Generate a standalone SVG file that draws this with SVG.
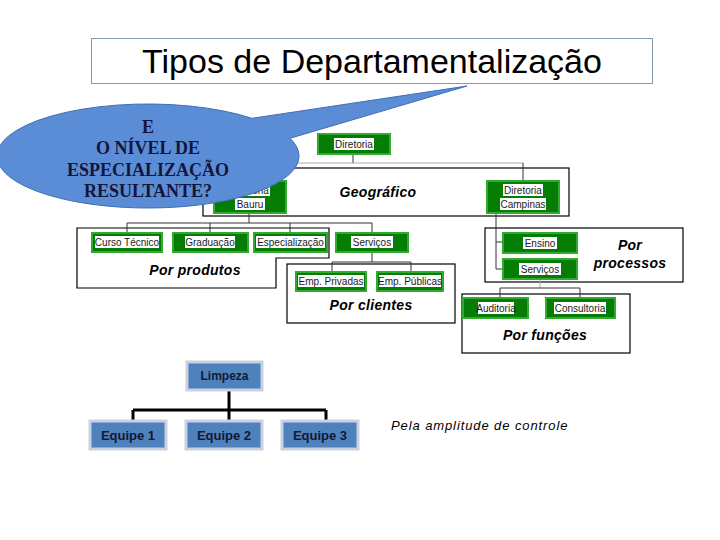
<svg xmlns="http://www.w3.org/2000/svg" width="720" height="540" viewBox="0 0 720 540">
<style>
.g{fill:#057d05;stroke:#32aa32;stroke-width:2}
.wb{fill:#ffffff}
.lt{font-family:"Liberation Sans",Arial,sans-serif;font-size:10px;fill:#1a1a1a;text-anchor:middle}
.it{font-family:"Liberation Sans",Arial,sans-serif;font-size:14px;font-weight:bold;font-style:italic;fill:#000;text-anchor:middle;letter-spacing:0.3px}
.fr{fill:none;stroke:#000;stroke-width:1.2}
.c{fill:none;stroke:#333;stroke-width:1}
.cg{fill:none;stroke:#aaa;stroke-width:1}
.b{fill:#4f81bd;stroke:#c8d2e0;stroke-width:3}
.bt{font-family:"Liberation Sans",Arial,sans-serif;font-weight:bold;fill:#0f1a33;text-anchor:middle}
.cl{font-family:"Liberation Serif","Times New Roman",serif;font-size:18px;font-weight:bold;fill:#15153a;text-anchor:middle}
</style>
<rect width="720" height="540" fill="#ffffff"/>
<g id="title">
<rect x="91.5" y="38.5" width="561" height="45" fill="#ffffff" stroke="#8497b0" stroke-width="1"/>
<text x="372" y="73" font-family="Liberation Sans,Arial,sans-serif" font-size="34" text-anchor="middle" fill="#000">Tipos de Departamentalização</text>
</g>
<g id="frames">
<rect class="fr" x="203" y="168" width="366" height="48"/>
<path class="fr" d="M77 228 H329 V258 H276 V288 H77 Z"/>
<rect class="fr" x="287" y="264" width="168" height="59"/>
<rect class="fr" x="485" y="228" width="198" height="54"/>
<rect class="fr" x="462" y="294" width="168" height="59"/>
</g>
<g id="connectors">
<path class="c" d="M353 154 V163"/>
<path class="cg" d="M249 163 H523"/>
<path class="c" d="M523 163 V181"/>
<path class="c" d="M249 213 V223 M127 223 H372 M127 223 V233 M210 223 V233 M290 223 V233 M372 223 V232"/>
<path class="c" d="M372 252 V262 M332 262 H411 M332 262 V271 M411 262 V271"/>
<path class="c" d="M496 214 V269 M496 242 H503 M496 269 H503"/>
<path class="cg" d="M540 279 V288"/>
<path class="c" d="M500 288 H580 M500 288 V298 M580 288 V298"/>
<path d="M229 390 V410 M133 410 H326 M133 410 V421 M229 410 V421 M326 410 V421" fill="none" stroke="#000" stroke-width="3"/>
</g>
<g id="diretoria">
<rect class="g" x="318" y="134" width="72" height="20"/>
<rect class="wb" x="334" y="138" width="40" height="12"/>
<text class="lt" x="354" y="147.5">Diretoria</text>
</g>
<g id="bauru">
<rect class="g" x="214" y="181" width="72" height="32"/>
<rect class="wb" x="230" y="184" width="40" height="12"/>
<text class="lt" x="250" y="193.5">Diretoria</text>
<rect class="wb" x="235" y="198" width="30" height="12"/>
<text class="lt" x="250" y="207.5">Bauru</text>
</g>
<g id="campinas">
<rect class="g" x="487" y="181" width="72" height="32"/>
<rect class="wb" x="503" y="184" width="40" height="12"/>
<text class="lt" x="523" y="193.5">Diretoria</text>
<rect class="wb" x="500" y="198" width="46" height="12"/>
<text class="lt" x="523" y="207.5">Campinas</text>
</g>
<g id="curso">
<rect class="g" x="92" y="233" width="70" height="19"/>
<rect class="wb" x="95" y="236" width="64" height="12"/>
<text class="lt" x="127" y="245.5">Curso Técnico</text>
</g>
<g id="graduacao">
<rect class="g" x="173" y="233" width="75" height="19"/>
<rect class="wb" x="185" y="236" width="50" height="12"/>
<text class="lt" x="210" y="245.5">Graduação</text>
</g>
<g id="especializacao">
<rect class="g" x="254" y="233" width="73" height="19"/>
<rect class="wb" x="256" y="236" width="69" height="12"/>
<text class="lt" x="290.5" y="245.5">Especialização</text>
</g>
<g id="servicos1">
<rect class="g" x="336" y="233" width="72" height="19"/>
<rect class="wb" x="351" y="236" width="42" height="12"/>
<text class="lt" x="372" y="245.5">Serviços</text>
</g>
<g id="privadas">
<rect class="g" x="296" y="272" width="70" height="19"/>
<rect class="wb" x="298" y="275" width="66" height="12"/>
<text class="lt" x="331" y="284.5">Emp. Privadas</text>
</g>
<g id="publicas">
<rect class="g" x="377" y="272" width="66" height="19"/>
<rect class="wb" x="379" y="275" width="62" height="12"/>
<text class="lt" x="410" y="284.5">Emp. Públicas</text>
</g>
<g id="ensino">
<rect class="g" x="503" y="233" width="74" height="20"/>
<rect class="wb" x="523" y="237" width="34" height="12"/>
<text class="lt" x="540" y="246.5">Ensino</text>
</g>
<g id="servicos2">
<rect class="g" x="503" y="259" width="74" height="20"/>
<rect class="wb" x="519" y="263" width="42" height="12"/>
<text class="lt" x="540" y="272.5">Serviços</text>
</g>
<g id="auditoria">
<rect class="g" x="463" y="298" width="65" height="20"/>
<rect class="wb" x="478" y="302" width="36" height="12"/>
<text class="lt" x="496" y="311.5">Auditoria</text>
</g>
<g id="consultoria">
<rect class="g" x="546" y="298" width="69" height="20"/>
<rect class="wb" x="554" y="302" width="52" height="12"/>
<text class="lt" x="580" y="311.5">Consultoria</text>
</g>
<g id="labels">
<text class="it" x="378" y="197">Geográfico</text>
<text class="it" x="195" y="275">Por produtos</text>
<text class="it" x="371" y="310">Por clientes</text>
<text class="it" x="630" y="250">Por</text>
<text class="it" x="630" y="268">processos</text>
<text class="it" x="545" y="340">Por funções</text>
<text x="391" y="430" font-family="Liberation Sans,Arial,sans-serif" font-size="13" font-style="italic" letter-spacing="0.9" fill="#000">Pela amplitude de controle</text>
</g>
<g id="limpeza">
<rect class="b" x="187" y="362" width="75" height="28"/>
<text class="bt" x="224.5" y="380" font-size="12">Limpeza</text>
</g>
<g id="equipe1">
<rect class="b" x="90" y="421" width="76" height="28"/>
<text class="bt" x="128" y="440" font-size="13">Equipe 1</text>
</g>
<g id="equipe2">
<rect class="b" x="186" y="421" width="76" height="28"/>
<text class="bt" x="224" y="440" font-size="13">Equipe 2</text>
</g>
<g id="equipe3">
<rect class="b" x="282" y="421" width="76" height="28"/>
<text class="bt" x="320" y="440" font-size="13">Equipe 3</text>
</g>
<g id="callout">
<path d="M252 118.3 L467 86 L290 138.32 A151 52 0 1 1 252 118.3 Z" fill="#5a8dd6" stroke="#3f6fb5" stroke-width="1"/>
<text class="cl" x="148" y="133">E</text>
<text class="cl" x="148" y="154">O NÍVEL DE</text>
<text class="cl" x="148" y="176">ESPECIALIZAÇÃO</text>
<text class="cl" x="148" y="197">RESULTANTE?</text>
</g>
</svg>
